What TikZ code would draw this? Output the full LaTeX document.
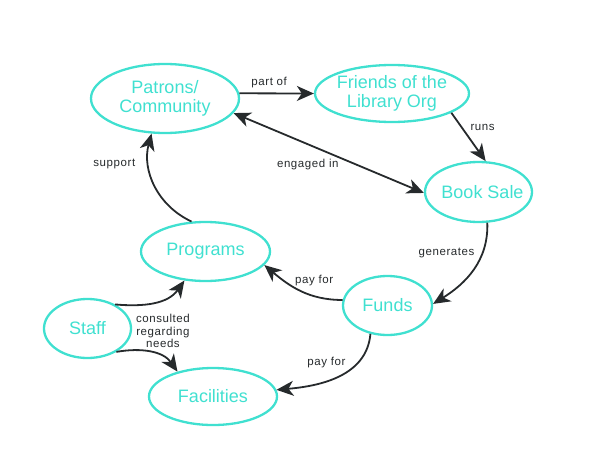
\documentclass[tikz,border=0pt]{standalone}
\usepackage{fontspec}
\setmainfont{Liberation Sans}
\newfontfamily\labelfont[LetterSpace=5]{Liberation Sans}
\usetikzlibrary{shapes, arrows.meta, positioning}
\definecolor{turq}{RGB}{64,224,208}
\definecolor{ink}{RGB}{38,42,44}
\tikzstyle{concept} = [ellipse, draw=turq, line width=2.3pt, text=turq, align=center, inner xsep=-25pt, inner ysep=-12pt, font=\fontsize{18}{19.5}\selectfont]
\tikzstyle{link} = [draw=ink, line width=1.8pt, >={Stealth[length=17pt, width=15pt, inset=5pt]}, ->]
\tikzstyle{linklabel} = [text=ink, align=center, inner sep=1pt, font=\labelfont\fontsize{11.5}{12.5}\selectfont]

\begin{document}
\begin{tikzpicture}[x=1pt, y=1pt]
	\useasboundingbox (0,0) rectangle (612,475);
	\node[concept, minimum width=148pt, minimum height=69pt] (patrons) at (165,376.5) {Patrons/\\Community};
	\node[concept, minimum width=154pt, minimum height=57pt] (friends) at (392,381.5) {Friends of the\\Library Org};
	\node[concept, minimum width=107pt, minimum height=60pt] (booksale) at (478.5,283) {\hspace*{8pt}Book Sale};
	\node[concept, minimum width=89pt, minimum height=59pt] (funds) at (387.5,169.5) {Funds};
	\node[concept, minimum width=129pt, minimum height=59pt] (programs) at (205.5,223.5) {Programs};
	\node[concept, minimum width=87pt, minimum height=59pt] (staff) at (87.5,146.5) {Staff};
	\node[concept, minimum width=128pt, minimum height=57pt] (facilities) at (213,78.5) {Facilities};

	\draw[link] (patrons.4) -- node[linklabel, above=4pt, pos=0.4] {part of} (friends.west);
	\draw[link] (friends.-18) -- node[linklabel, right=7pt, pos=0.3] {runs} (booksale.77);
	\draw[link, <->] (patrons.-12) -- node[linklabel, below=13pt, pos=0.39] {engaged in} (booksale.181);
	\draw[link] (booksale.-74) to[out=-88, in=32] node[linklabel, left=6pt, pos=0.3] {generates} (funds.2);
	\draw[link] (funds.173) to[out=180, in=-40] node[linklabel, above=8pt, pos=0.32] {pay for} (programs.-13);
	\draw[link] (funds.-121) to[out=-95, in=5] node[linklabel, above left=1pt, pos=0.4] {pay for} (facilities.6);
	\draw[link] (programs.115) to[out=155, in=-105] node[linklabel, left=12pt, pos=0.72] {support} (patrons.-111);
	\draw[link] (staff.41) to[out=-5, in=-125] (programs.-126);
	\draw[link] (staff.-39) to[out=10, in=125] node[linklabel, above right=1pt and -7pt, pos=0.35] {consulted\\regarding\\needs} (facilities.145);
\end{tikzpicture}
\end{document}
